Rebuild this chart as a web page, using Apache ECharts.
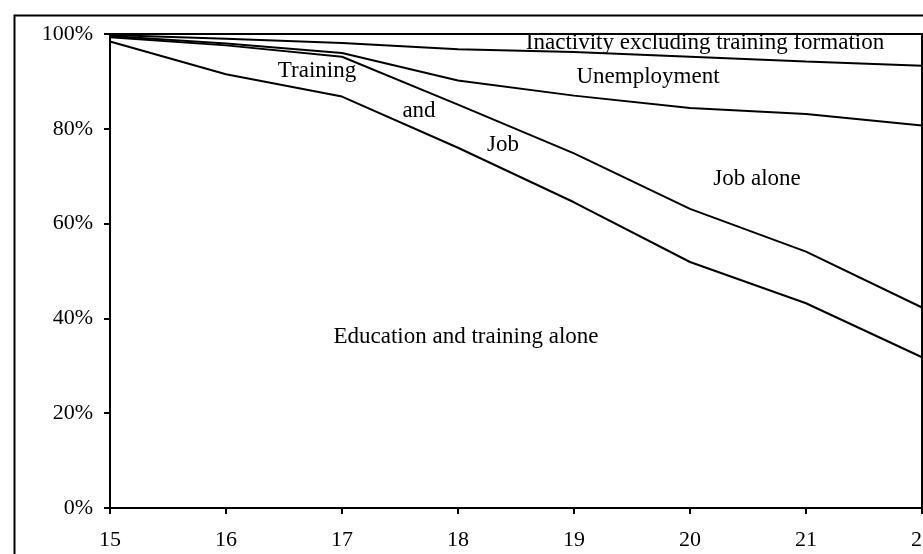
<!DOCTYPE html>
<html>
<head>
<meta charset="utf-8">
<script src="https://cdn.jsdelivr.net/npm/echarts@6/dist/echarts.min.js"></script>
<style>
html,body{margin:0;padding:0;background:#fff;}
#c{width:923px;height:554px;}
</style>
</head>
<body>
<div id="c"></div>
<script>
// Ages (x axis)
const ages = [15, 16, 17, 18, 19, 20, 21, 22];
// Cumulative shares (%), upper bound of each status band
const educationAlone   = [98.4, 91.5, 86.8, 76.0, 64.5, 51.9, 43.2, 31.8];
const trainingAndJob   = [99.3, 97.6, 95.2, 85.1, 74.8, 63.1, 54.1, 42.3];
const jobAlone         = [99.6, 98.0, 96.0, 90.2, 87.0, 84.4, 83.1, 80.7];
const unemployment     = [99.8, 99.0, 98.1, 96.8, 96.2, 95.2, 94.2, 93.3];
const yTicks = [0, 20, 40, 60, 80, 100];

const FONT = "'Liberation Serif','Times New Roman',serif";

function pairs(vals){ return ages.map((a,i)=>[a, vals[i]]); }
function lineSeries(name, vals){
  return {
    name, type:'line', data: pairs(vals), symbol:'none', silent:true,
    lineStyle:{color:'#000', width:2}, itemStyle:{color:'#000'}, animation:false
  };
}

const chart = echarts.init(document.getElementById('c'), null, {renderer:'canvas'});
chart.setOption({
  backgroundColor:'#fff',
  animation:false,
  grid:{left:110, right:1, top:34, bottom:46, containLabel:false, outerBoundsMode:'none',
        show:true, borderColor:'#000', borderWidth:2, backgroundColor:'transparent'},
  xAxis:{
    type:'value', min:ages[0], max:ages[ages.length-1], interval:1,
    axisLine:{show:true, lineStyle:{color:'#000', width:2}},
    axisTick:{show:true, length:6, lineStyle:{color:'#000', width:2}},
    axisLabel:{color:'#000', fontFamily:FONT, fontSize:22, margin:21, hideOverlap:false},
    splitLine:{show:false}
  },
  yAxis:{
    type:'value', min:yTicks[0], max:yTicks[yTicks.length-1], interval:20,
    axisLine:{show:true, lineStyle:{color:'#000', width:2}},
    axisTick:{show:true, length:6, lineStyle:{color:'#000', width:2}},
    axisLabel:{color:'#000', fontFamily:FONT, fontSize:22, margin:17, formatter:'{value}%'},
    splitLine:{show:false}
  },
  series:[
    lineSeries('Education and training alone', educationAlone),
    lineSeries('Training and job', trainingAndJob),
    lineSeries('Job alone', jobAlone),
    lineSeries('Unemployment', unemployment)
  ],
  graphic:[
    {type:'rect', left:12, top:13, shape:{x:0,y:0,width:1000,height:1000}, style:{fill:'none', stroke:'#000', lineWidth:2}, silent:true, z:-1},
    {type:'text', x:317, y:71, style:{text:'Training', font:"23px "+FONT, fill:'#000', align:'center', verticalAlign:'middle'}},
    {type:'text', x:419, y:111, style:{text:'and', font:"23px "+FONT, fill:'#000', align:'center', verticalAlign:'middle'}},
    {type:'text', x:503, y:145, style:{text:'Job', font:"23px "+FONT, fill:'#000', align:'center', verticalAlign:'middle'}},
    {type:'text', x:757, y:179, style:{text:'Job alone', font:"23px "+FONT, fill:'#000', align:'center', verticalAlign:'middle'}},
    {type:'text', x:648, y:77, style:{text:'Unemployment', font:"23px "+FONT, fill:'#000', align:'center', verticalAlign:'middle'}},
    {type:'text', x:705, y:43, style:{text:'Inactivity excluding training formation', font:"23px "+FONT, fill:'#000', align:'center', verticalAlign:'middle'}},
    {type:'text', x:466, y:337, style:{text:'Education and training alone', font:"23px "+FONT, fill:'#000', align:'center', verticalAlign:'middle'}}
  ]
});
</script>
</body>
</html>
